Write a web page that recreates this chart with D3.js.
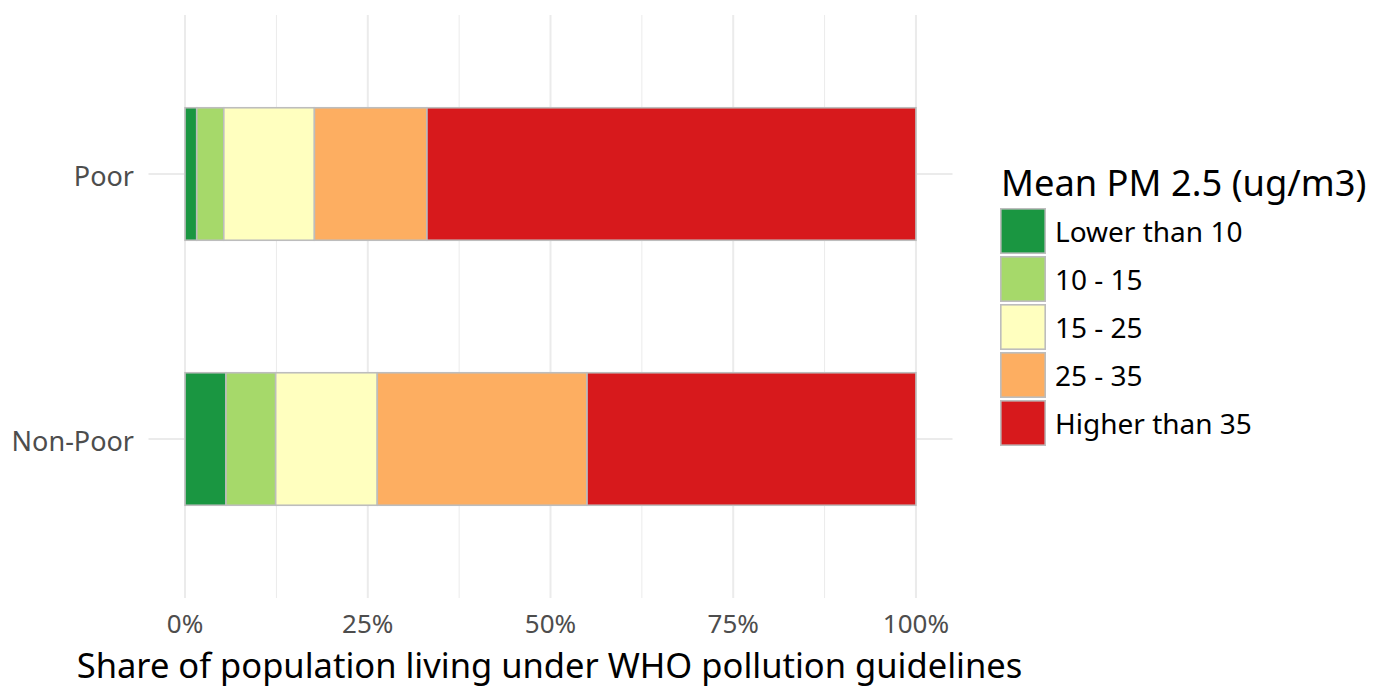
<!DOCTYPE html>
<html>
<head>
<meta charset="utf-8">
<script src="https://cdn.jsdelivr.net/npm/d3@7"></script>
<style>
  html, body { margin: 0; padding: 0; background: #ffffff; }
  svg { display: block; }
  text { font-family: "Noto Sans", sans-serif; }
</style>
</head>
<body>
<svg id="chart" width="1400" height="700"></svg>
<script>
// ---- data ----
const categories = ["Poor", "Non-Poor"];
const levels = ["Lower than 10", "10 - 15", "15 - 25", "25 - 35", "Higher than 35"];
const colors = ["#1a9641", "#a6d96a", "#ffffbf", "#fdae61", "#d7191c"];
const poorValues = [1.6, 3.7, 12.4, 15.4, 66.9];
const nonPoorValues = [5.6, 6.8, 13.9, 28.7, 45.0];
const xTicks = [0, 25, 50, 75, 100];
const xTickLabels = ["0%", "25%", "50%", "75%", "100%"];
const xMinorTicks = [12.5, 37.5, 62.5, 87.5];
const legendTitle = "Mean PM 2.5 (ug/m3)";
const xTitle = "Share of population living under WHO pollution guidelines";

const seriesByCat = { "Poor": poorValues, "Non-Poor": nonPoorValues };

// ---- layout ----
const svg = d3.select("#chart");
const panel = { left: 148.5, right: 952.5, top: 15, bottom: 598 };

const x = d3.scaleLinear().domain([-5, 105]).range([panel.left, panel.right]);
// discrete y with ggplot-like expansion of 0.6 units
const yPos = d3.scaleLinear().domain([0.4, 2.6]).range([panel.top, panel.bottom]);
const catIndex = c => categories.indexOf(c) + 1;
const barHalf = 0.25;

const g = svg.append("g");

// minor grid
g.selectAll("line.minor").data(xMinorTicks).enter().append("line")
  .attr("x1", d => x(d)).attr("x2", d => x(d))
  .attr("y1", panel.top).attr("y2", panel.bottom)
  .attr("stroke", "#ebebeb").attr("stroke-width", 1);
// major grid vertical
g.selectAll("line.majorx").data(xTicks).enter().append("line")
  .attr("x1", d => x(d)).attr("x2", d => x(d))
  .attr("y1", panel.top).attr("y2", panel.bottom)
  .attr("stroke", "#ebebeb").attr("stroke-width", 2);
// major grid horizontal
g.selectAll("line.majory").data(categories).enter().append("line")
  .attr("x1", panel.left).attr("x2", panel.right)
  .attr("y1", d => yPos(catIndex(d))).attr("y2", d => yPos(catIndex(d)))
  .attr("stroke", "#ebebeb").attr("stroke-width", 2);

// stacked bars
const stackedRows = [];
categories.forEach(c => {
  let cum = 0;
  seriesByCat[c].forEach((v, i) => {
    stackedRows.push({ cat: c, level: i, x0: cum, x1: cum + v });
    cum += v;
  });
});
g.selectAll("rect.seg").data(stackedRows).enter().append("rect")
  .attr("x", d => x(d.x0))
  .attr("width", d => x(d.x1) - x(d.x0))
  .attr("y", d => yPos(catIndex(d.cat) - barHalf))
  .attr("height", d => yPos(catIndex(d.cat) + barHalf) - yPos(catIndex(d.cat) - barHalf))
  .attr("fill", d => colors[d.level])
  .attr("stroke", "#bdbdbd").attr("stroke-width", 1.6);

// y tick labels
g.selectAll("text.ytick").data(categories).enter().append("text")
  .attr("x", 134).attr("y", d => yPos(catIndex(d)) + 12)
  .attr("text-anchor", "end")
  .attr("font-size", 27).attr("fill", "#4d4d4d")
  .text(d => d);

// x tick labels
g.selectAll("text.xtick").data(xTicks).enter().append("text")
  .attr("x", d => x(d)).attr("y", 633)
  .attr("text-anchor", "middle")
  .attr("font-size", 26).attr("fill", "#4d4d4d")
  .text((d, i) => xTickLabels[i]);

// x axis title
g.append("text")
  .attr("x", 549.5).attr("y", 678)
  .attr("text-anchor", "middle")
  .attr("font-size", 34.5).attr("fill", "#000")
  .text(xTitle);

// legend
const lg = svg.append("g").attr("transform", "translate(1000,0)");
lg.append("text").attr("x", 1).attr("y", 196)
  .attr("font-size", 36.3).attr("fill", "#000").text(legendTitle);
const keyTop = 208, keyStep = 48, keySize = 46;
lg.selectAll("rect.key").data(levels).enter().append("rect")
  .attr("x", 0.8).attr("y", (d, i) => keyTop + i * keyStep + 0.8)
  .attr("width", keySize - 1.6).attr("height", keySize - 1.6)
  .attr("fill", (d, i) => colors[i])
  .attr("stroke", "#bdbdbd").attr("stroke-width", 1.6);
lg.selectAll("text.key").data(levels).enter().append("text")
  .attr("x", 55).attr("y", (d, i) => keyTop + i * keyStep + keySize / 2 + 11)
  .attr("font-size", 28).attr("fill", "#000")
  .text(d => d);
</script>
</body>
</html>
